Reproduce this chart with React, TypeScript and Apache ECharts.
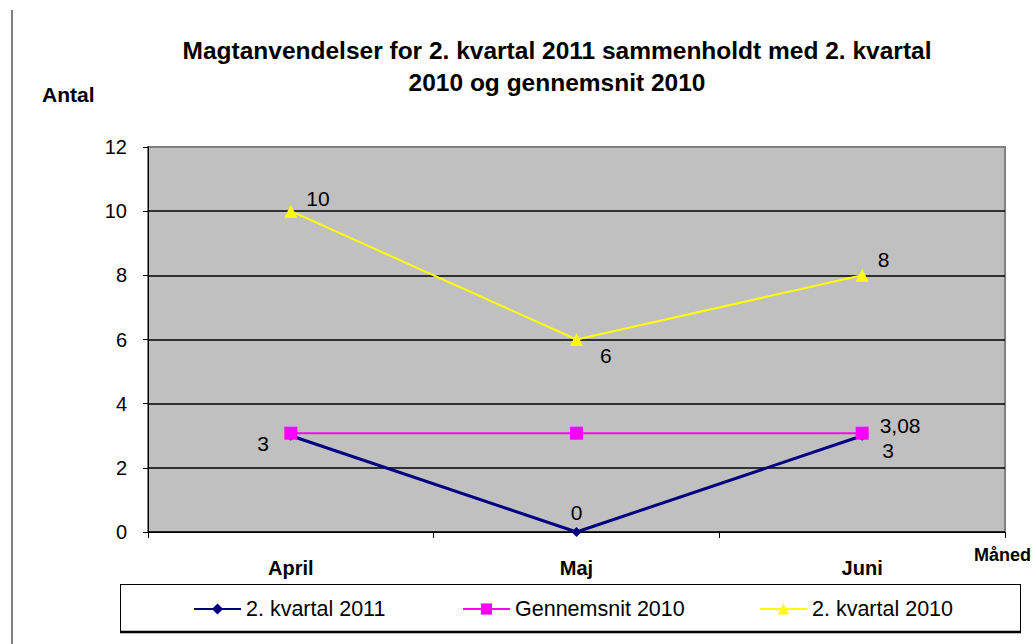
import React, { useEffect, useRef } from "react";
import * as echarts from "echarts";

const categories = ["April", "Maj", "Juni"];
const kvartal2011 = [3, 0, 3];
const gennemsnit2010 = [3.08, 3.08, 3.08];
const kvartal2010 = [10, 6, 8];
const yTicks = [0, 2, 4, 6, 8, 10, 12];

const FONT = "'Liberation Sans', Arial, sans-serif";
const fmt = (v: number) => String(v).replace(".", ",");

export default function App() {
  const ref = useRef<HTMLDivElement>(null);
  useEffect(() => {
    const chart = echarts.init(ref.current!, null, { renderer: "svg" });
    const lbl = { fontFamily: FONT, fontSize: 21, color: "#000" };
    const blueLabels = [
      { show: true, position: "left", offset: [-12, 8] },
      { show: true, position: "top", distance: 4 },
      { show: true, position: "right", offset: [10, 15] },
    ];
    const yellowLabels = [
      { show: true, position: "right", offset: [4, -13] },
      { show: true, position: "right", offset: [12, 16] },
      { show: true, position: "right", offset: [4, -16] },
    ];
    const magLabels = [
      { show: false },
      { show: false },
      { show: true, position: "right", offset: [6, -8] },
    ];
    const legendText = { fontFamily: FONT, fontSize: 21.5, color: "#000" };
    const legendBase = { top: 598, itemWidth: 47, itemHeight: 14, itemGap: 0, padding: 0, textStyle: legendText };
    chart.setOption({
      animation: false,
      backgroundColor: "#fff",
      title: {
        text: "Magtanvendelser for 2. kvartal 2011 sammenholdt med 2. kvartal\n2010 og gennemsnit 2010",
        left: 552,
        top: 29,
        textAlign: "center",
        textStyle: { fontFamily: FONT, fontSize: 24.5, fontWeight: "bold", color: "#000", lineHeight: 32 },
      },
      grid: {
        left: 148,
        right: 28,
        top: 147,
        bottom: 112,
        show: true,
        backgroundColor: "#C0C0C0",
        borderColor: "#808080",
        borderWidth: 2,
      },
      xAxis: {
        type: "category",
        data: categories,
        boundaryGap: true,
        axisLine: { lineStyle: { color: "#000", width: 1 } },
        axisTick: { show: true, alignWithLabel: false, length: 6, lineStyle: { color: "#000" } },
        axisLabel: { fontFamily: FONT, fontSize: 20, fontWeight: "bold", color: "#000", margin: 26 },
        splitLine: { show: false },
      },
      yAxis: {
        type: "value",
        min: yTicks[0],
        max: yTicks[yTicks.length - 1],
        interval: 2,
        axisLine: { show: true, lineStyle: { color: "#000" } },
        axisTick: { show: true, length: 5, lineStyle: { color: "#000" } },
        axisLabel: { fontFamily: FONT, fontSize: 20, color: "#000", margin: 21 },
        splitLine: {
          show: true,
          lineStyle: { color: ["#000", "#000", "#000", "#000", "#000", "#000", "#808080"], width: 1.5 },
        },
      },
      legend: [
        { ...legendBase, data: ["2. kvartal 2011"], left: 193 },
        { ...legendBase, data: ["Gennemsnit 2010"], left: 462 },
        { ...legendBase, data: ["2. kvartal 2010"], left: 759 },
      ],
      graphic: [
        { type: "line", shape: { x1: 12, y1: 10, x2: 12, y2: 644 }, style: { stroke: "#000", lineWidth: 1 } },
        { type: "text", left: 42, top: 84, style: { text: "Antal", font: `bold 21px ${FONT}`, fill: "#000" } },
        { type: "text", left: 974, top: 546, style: { text: "Måned", font: `bold 18px ${FONT}`, fill: "#000" } },
        { type: "line", shape: { x1: 120, y1: 584.5, x2: 1021, y2: 584.5 }, style: { stroke: "#000", lineWidth: 1 } },
        { type: "line", shape: { x1: 120.5, y1: 584, x2: 120.5, y2: 632 }, style: { stroke: "#000", lineWidth: 1 } },
        { type: "line", shape: { x1: 1020.5, y1: 584, x2: 1020.5, y2: 632 }, style: { stroke: "#000", lineWidth: 1 } },
        { type: "line", shape: { x1: 120, y1: 632, x2: 1021, y2: 632 }, style: { stroke: "#000", lineWidth: 2.5 } },
      ],
      series: [
        {
          name: "2. kvartal 2011",
          type: "line",
          data: kvartal2011.map((v, i) => ({ value: v, label: { ...lbl, ...blueLabels[i], formatter: (p: any) => fmt(p.value) } })),
          symbol: "diamond",
          symbolSize: 10,
          color: "#000080",
          lineStyle: { color: "#000080", width: 3 },
          itemStyle: { color: "#000080" },
          z: 3,
        },
        {
          name: "Gennemsnit 2010",
          type: "line",
          data: gennemsnit2010.map((v, i) => ({ value: v, label: { ...lbl, ...magLabels[i], formatter: (p: any) => fmt(p.value) } })),
          symbol: "rect",
          symbolSize: 13,
          color: "#FF00FF",
          lineStyle: { color: "#FF00FF", width: 2 },
          itemStyle: { color: "#FF00FF" },
          z: 4,
        },
        {
          name: "2. kvartal 2010",
          type: "line",
          data: kvartal2010.map((v, i) => ({ value: v, label: { ...lbl, ...yellowLabels[i], formatter: (p: any) => fmt(p.value) } })),
          symbol: "triangle",
          symbolSize: 13,
          color: "#FFFF00",
          lineStyle: { color: "#FFFF00", width: 2 },
          itemStyle: { color: "#FFFF00" },
          z: 5,
        },
      ],
    });
    return () => chart.dispose();
  }, []);
  return <div ref={ref} style={{ position: "fixed", left: 0, top: 0, width: 1033, height: 644 }} />;
}
